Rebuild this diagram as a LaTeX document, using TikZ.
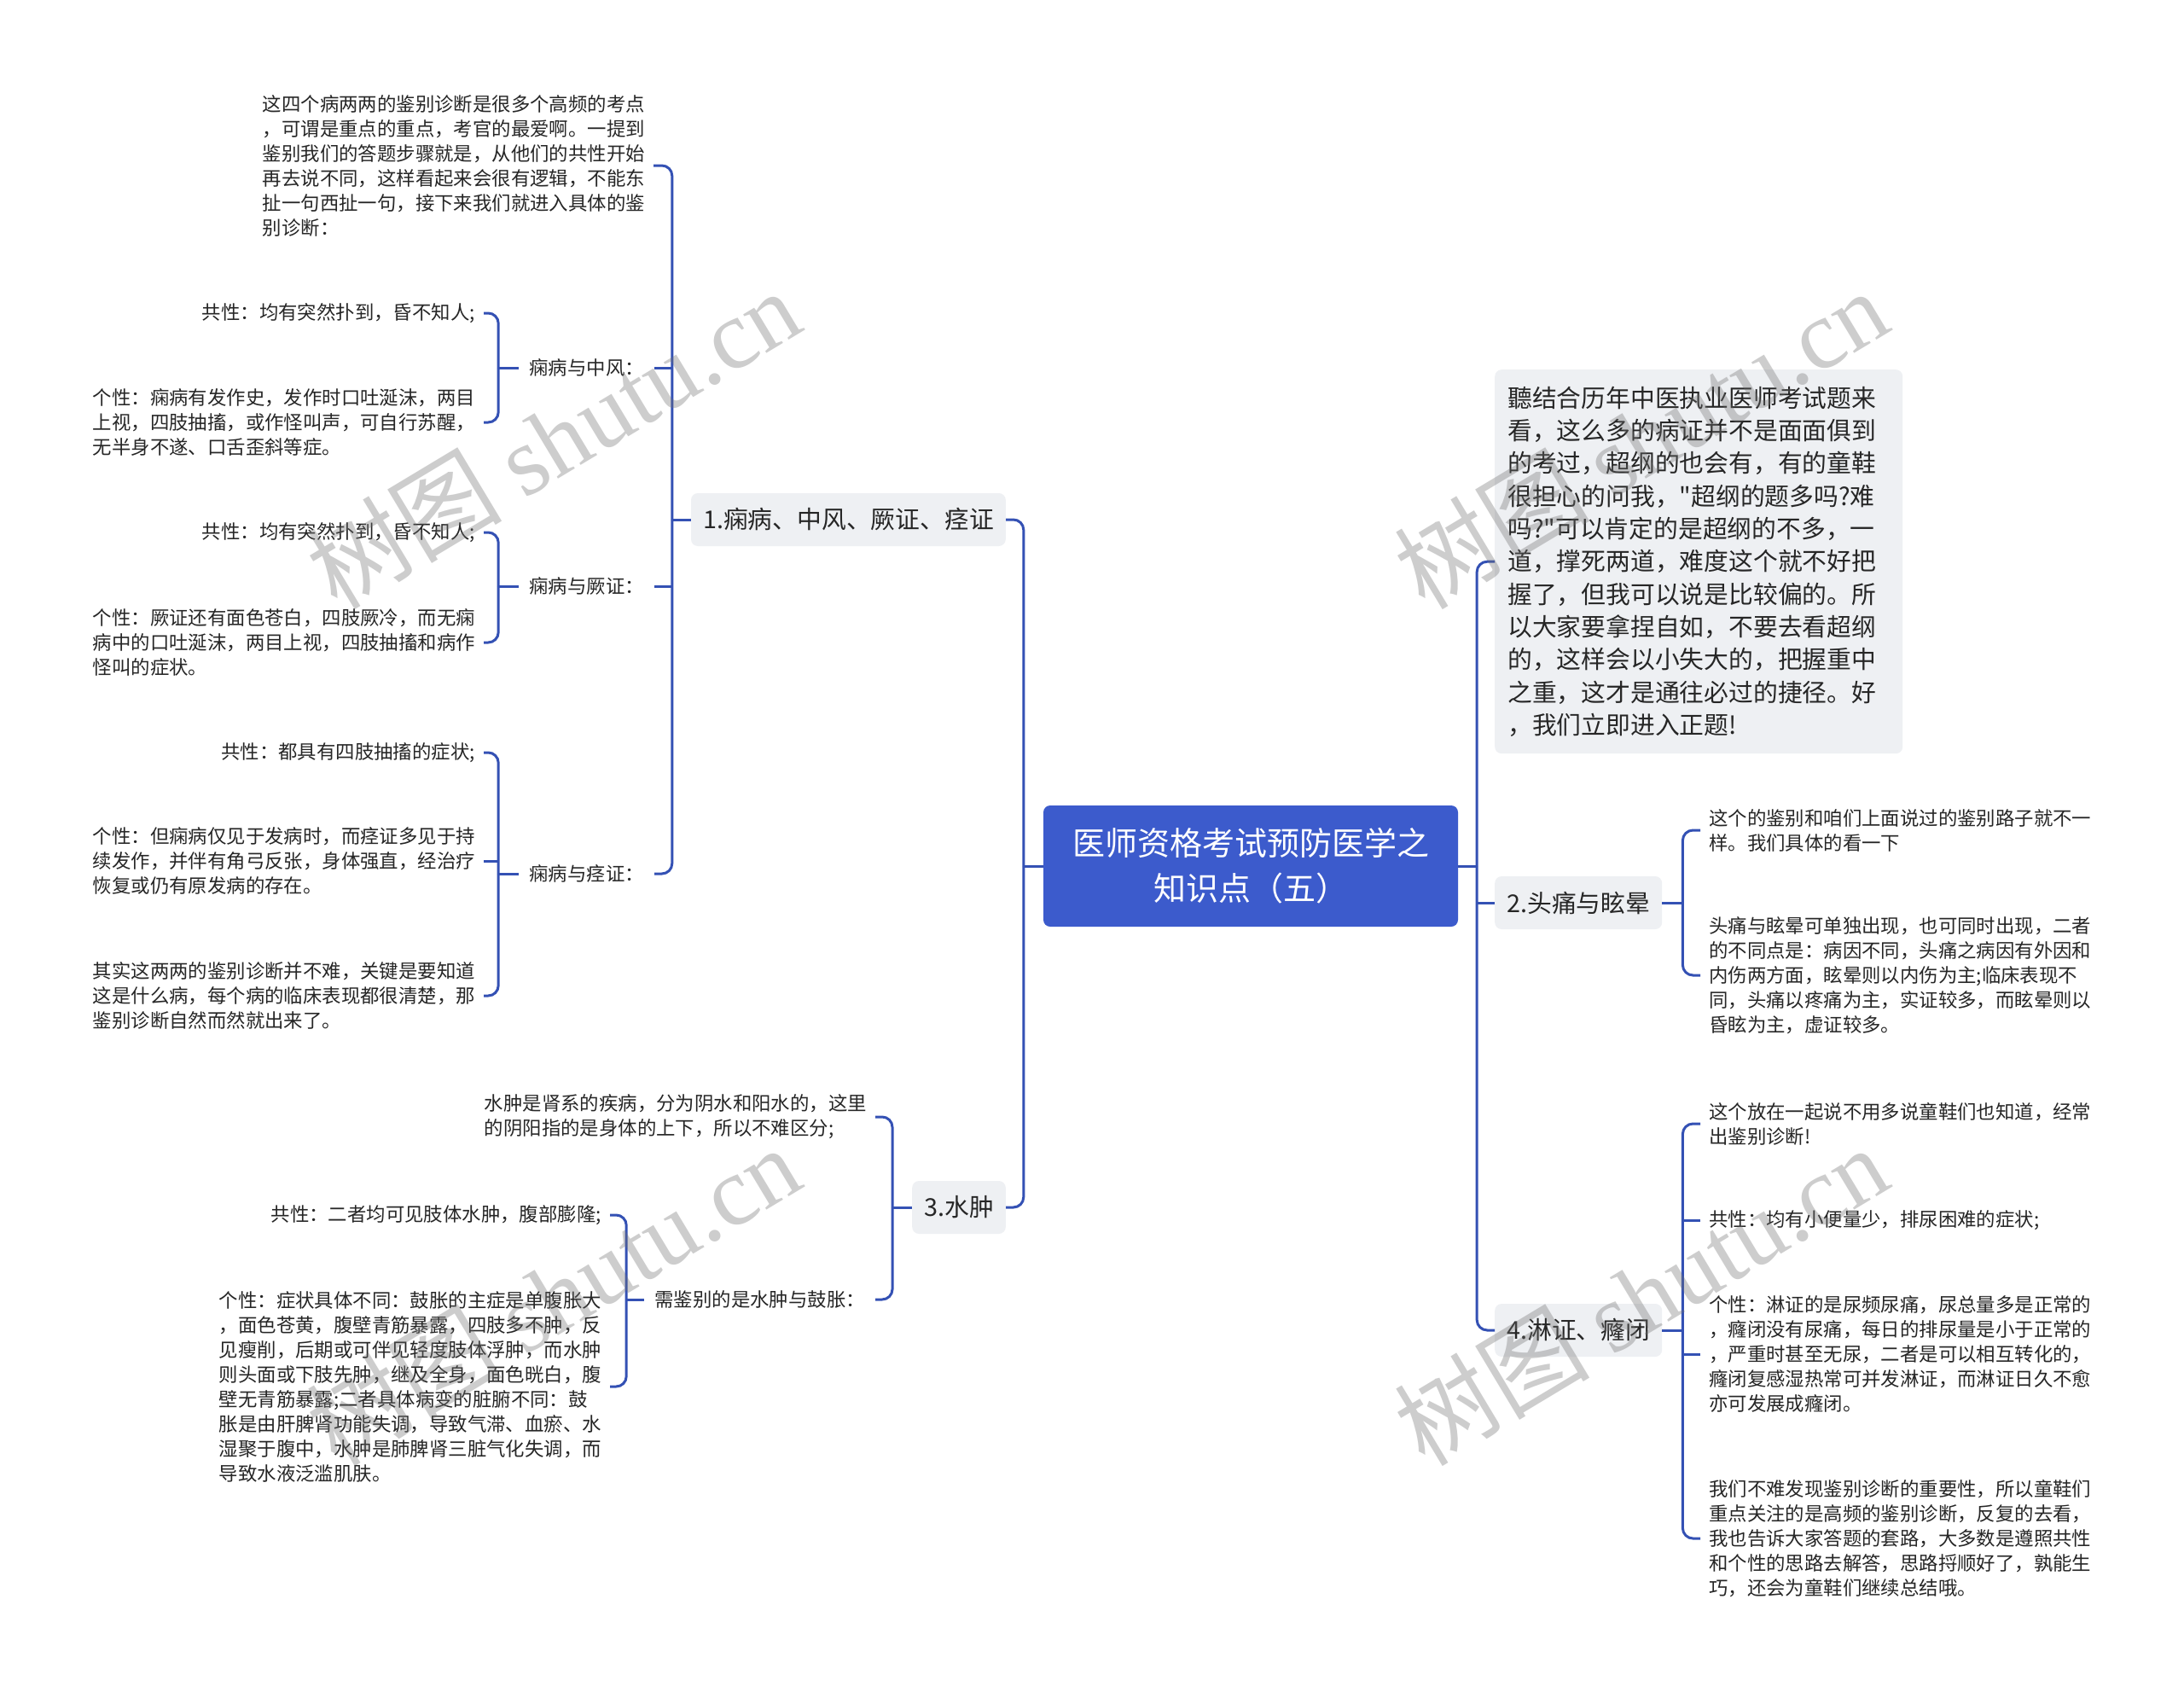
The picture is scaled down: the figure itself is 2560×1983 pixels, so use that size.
\documentclass[tikz,border=0pt]{standalone}
\usepackage{fontspec}
\setmainfont{Noto Sans CJK SC}[Ligatures=TeXOff]
\newfontfamily\wmlatin{Liberation Serif}
\usetikzlibrary{calc}
\definecolor{hubblue}{HTML}{3C5BCC}
\definecolor{linkblue}{HTML}{3451B4}
\definecolor{boxgrey}{HTML}{EEF0F3}
\definecolor{inktext}{HTML}{262626}
\definecolor{wmgrey}{HTML}{707070}
\tikzset{
  conn/.style={draw=linkblue, line width=3pt, rounded corners=12pt},
  hub/.style={fill=hubblue, text=white, rounded corners=8pt, font=\fontsize{38}{53}\selectfont, align=center, minimum width=486pt, minimum height=142pt, inner sep=0pt},
  branch/.style={fill=boxgrey, text=inktext, rounded corners=8pt, font=\fontsize{28.8}{36}\selectfont, inner xsep=14pt, inner ysep=0pt, minimum height=62pt},
  introbox/.style={fill=boxgrey, text=inktext, rounded corners=8pt, font=\fontsize{28.8}{38.3}\selectfont, text width=448pt, align=left, inner xsep=15pt, inner ysep=0pt, minimum height=450pt},
  leaf/.style={text=inktext, font=\fontsize{22.4}{29}\selectfont, align=left, inner xsep=10pt, inner ysep=2pt},
  sublabel/.style={text=inktext, font=\fontsize{22.4}{29}\selectfont, inner xsep=12pt, inner ysep=2pt},
  wm/.style={text=wmgrey, opacity=0.35, rotate=31, font=\fontsize{115}{115}\selectfont, inner sep=0pt},
}
\begin{document}
\begin{tikzpicture}[x=1pt,y=-1pt]
\useasboundingbox (0,0) rectangle (2560,1983);
\fill[white] (0,0) rectangle (2560,1983);

% central topic
\node[hub] (c) at (1466,1015) {医师资格考试预防医学之\\知识点（五）};

% main branches
\node[branch, anchor=east] (n1) at (1179,609) {1.痫病、中风、厥证、痉证};
\node[branch, anchor=east] (n3) at (1179,1415) {3.水肿};
\node[introbox, anchor=north west] (n0) at (1752,433) {聽结合历年中医执业医师考试题来\\看，这么多的病证并不是面面俱到\\的考过，超纲的也会有，有的童鞋\\很担心的问我，"超纲的题多吗?难\\吗?"可以肯定的是超纲的不多，一\\道，撑死两道，难度这个就不好把\\握了，但我可以说是比较偏的。所\\以大家要拿捏自如，不要去看超纲\\的，这样会以小失大的，把握重中\\之重，这才是通往必过的捷径。好\\，我们立即进入正题!};
\node[branch, anchor=west] (n2) at (1752,1058) {2.头痛与眩晕};
\node[branch, anchor=west] (n4) at (1752,1559) {4.淋证、癃闭};

% branch 1 children
\node[leaf, anchor=east] (t0) at (766,194) {这四个病两两的鉴别诊断是很多个高频的考点\\，可谓是重点的重点，考官的最爱啊。一提到\\鉴别我们的答题步骤就是，从他们的共性开始\\再去说不同，这样看起来会很有逻辑，不能东\\扯一句西扯一句，接下来我们就进入具体的鉴\\别诊断：};
\node[sublabel, anchor=east] (l11) at (767,431) {痫病与中风：};
\node[sublabel, anchor=east] (l12) at (767,687) {痫病与厥证：};
\node[sublabel, anchor=east] (l13) at (767,1024) {痫病与痉证：};

\node[leaf, anchor=east] (c11) at (567,367) {共性：均有突然扑到，昏不知人;};
\node[leaf, anchor=east] (c12) at (567,495) {个性：痫病有发作史，发作时口吐涎沫，两目\\上视，四肢抽搐，或作怪叫声，可自行苏醒，\\无半身不遂、口舌歪斜等症。};
\node[leaf, anchor=east] (c21) at (567,624) {共性：均有突然扑到，昏不知人;};
\node[leaf, anchor=east] (c22) at (567,753) {个性：厥证还有面色苍白，四肢厥冷，而无痫\\病中的口吐涎沫，两目上视，四肢抽搐和病作\\怪叫的症状。};
\node[leaf, anchor=east] (c31) at (567,882) {共性：都具有四肢抽搐的症状;};
\node[leaf, anchor=east] (c32) at (567,1009) {个性：但痫病仅见于发病时，而痉证多见于持\\续发作，并伴有角弓反张，身体强直，经治疗\\恢复或仍有原发病的存在。};
\node[leaf, anchor=east] (c33) at (567,1167) {其实这两两的鉴别诊断并不难，关键是要知道\\这是什么病，每个病的临床表现都很清楚，那\\鉴别诊断自然而然就出来了。};

% branch 3 children
\node[leaf, anchor=east] (w1) at (1026,1309) {水肿是肾系的疾病，分为阴水和阳水的，这里\\的阴阳指的是身体的上下，所以不难区分;};
\node[sublabel, anchor=east] (l31) at (1026,1523) {需鉴别的是水肿与鼓胀：};
\node[leaf, anchor=east] (w21) at (715,1424) {共性：二者均可见肢体水肿，腹部膨隆;};
\node[leaf, anchor=east] (w22) at (715,1625) {个性：症状具体不同：鼓胀的主症是单腹胀大\\，面色苍黄，腹壁青筋暴露，四肢多不肿，反\\见瘦削，后期或可伴见轻度肢体浮肿，而水肿\\则头面或下肢先肿，继及全身，面色晄白，腹\\壁无青筋暴露;二者具体病变的脏腑不同：鼓\\胀是由肝脾肾功能失调，导致气滞、血瘀、水\\湿聚于腹中，水肿是肺脾肾三脏气化失调，而\\导致水液泛滥肌肤。};

% branch 2 children
\node[leaf, anchor=west] (r21) at (1993,973) {这个的鉴别和咱们上面说过的鉴别路子就不一\\样。我们具体的看一下};
\node[leaf, anchor=west] (r22) at (1993,1143) {头痛与眩晕可单独出现，也可同时出现，二者\\的不同点是：病因不同，头痛之病因有外因和\\内伤两方面，眩晕则以内伤为主;临床表现不\\同，头痛以疼痛为主，实证较多，而眩晕则以\\昏眩为主，虚证较多。};

% branch 4 children
\node[leaf, anchor=west] (r41) at (1993,1317) {这个放在一起说不用多说童鞋们也知道，经常\\出鉴别诊断!};
\node[leaf, anchor=west] (r42) at (1993,1430) {共性：均有小便量少，排尿困难的症状;};
\node[leaf, anchor=west] (r43) at (1993,1587) {个性：淋证的是尿频尿痛，尿总量多是正常的\\，癃闭没有尿痛，每日的排尿量是小于正常的\\，严重时甚至无尿，二者是可以相互转化的，\\癃闭复感湿热常可并发淋证，而淋证日久不愈\\亦可发展成癃闭。};
\node[leaf, anchor=west] (r44) at (1993,1803) {我们不难发现鉴别诊断的重要性，所以童鞋们\\重点关注的是高频的鉴别诊断，反复的去看，\\我也告诉大家答题的套路，大多数是遵照共性\\和个性的思路去解答，思路捋顺好了，孰能生\\巧，还会为童鞋们继续总结哦。};

% ---- connectors ----
% left trunk
\coordinate (tl) at ($(c.west)+(-23,0)$);
\draw[conn] (c.west) -- (tl);
\draw[conn] (tl) |- (n1.east);
\draw[conn] (tl) |- (n3.east);
% right trunk
\coordinate (tr) at ($(c.east)+(22,0)$);
\draw[conn] (c.east) -- (tr);
\draw[conn] (tr) |- (n0.west);
\draw[conn] (tr) |- (n4.west);
\draw[conn] (n2.west) -- (n2.west -| tr);

% branch 1 bracket
\coordinate (b1) at ($(n1.west)+(-22,0)$);
\draw[conn] (n1.west) -- (b1);
\draw[conn] (b1) |- (t0.east);
\draw[conn] (b1) |- (l13.east);
\draw[conn] (l11.east) -- (l11.east -| b1);
\draw[conn] (l12.east) -- (l12.east -| b1);

\coordinate (b11) at ($(l11.west)+(-24,0)$);
\draw[conn] (l11.west) -- (b11);
\draw[conn] (b11) |- (c11.east);
\draw[conn] (b11) |- (c12.east);

\coordinate (b12) at ($(l12.west)+(-24,0)$);
\draw[conn] (l12.west) -- (b12);
\draw[conn] (b12) |- (c21.east);
\draw[conn] (b12) |- (c22.east);

\coordinate (b13) at ($(l13.west)+(-24,0)$);
\draw[conn] (l13.west) -- (b13);
\draw[conn] (b13) |- (c31.east);
\draw[conn] (b13) |- (c33.east);
\draw[conn] (c32.east) -- (c32.east -| b13);

% branch 3 bracket
\coordinate (b3) at ($(n3.west)+(-23,0)$);
\draw[conn] (n3.west) -- (b3);
\draw[conn] (b3) |- (w1.east);
\draw[conn] (b3) |- (l31.east);

\coordinate (b31) at ($(l31.west)+(-21,0)$);
\draw[conn] (l31.west) -- (b31);
\draw[conn] (b31) |- (w21.east);
\draw[conn] (b31) |- (w22.east);

% branch 2 bracket
\coordinate (b2) at ($(n2.east)+(24,0)$);
\draw[conn] (n2.east) -- (b2);
\draw[conn] (b2) |- (r21.west);
\draw[conn] (b2) |- (r22.west);

% branch 4 bracket
\coordinate (b4) at ($(n4.east)+(24,0)$);
\draw[conn] (n4.east) -- (b4);
\draw[conn] (b4) |- (r41.west);
\draw[conn] (b4) |- (r44.west);
\draw[conn] (r42.west) -- (r42.west -| b4);
\draw[conn] (r43.west) -- (r43.west -| b4);

% watermarks
\node[wm] (wm1) at (648,514) {树图 {\wmlatin shutu.cn}};
\node[wm] (wm2) at (1923,514) {树图 {\wmlatin shutu.cn}};
\node[wm] (wm3) at (648,1518) {树图 {\wmlatin shutu.cn}};
\node[wm] (wm4) at (1923,1518) {树图 {\wmlatin shutu.cn}};
\end{tikzpicture}
\end{document}
